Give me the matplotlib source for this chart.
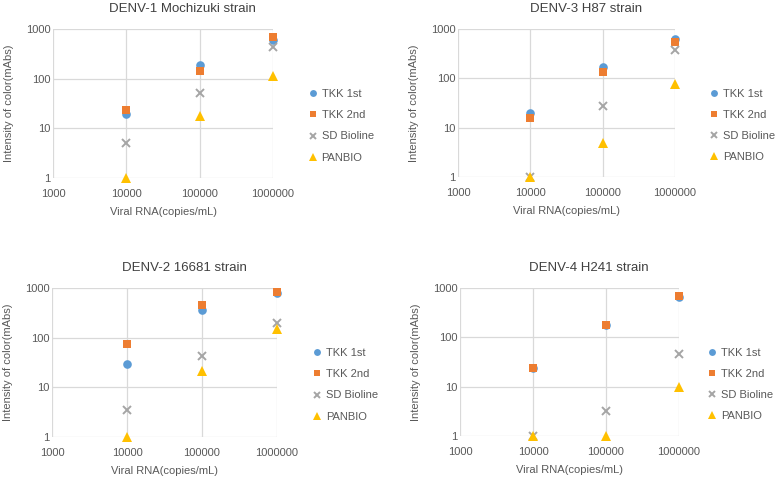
import matplotlib.pyplot as plt
from matplotlib.ticker import FixedLocator, FixedFormatter, NullLocator

plt.rcParams['font.family'] = ['Liberation Sans', 'DejaVu Sans']

viral_rna = [10000, 100000, 1000000]
series_names = ['TKK 1st', 'TKK 2nd', 'SD Bioline', 'PANBIO']

denv1_title = 'DENV-1 Mochizuki strain'
denv1_tkk1 = [19, 191, 590]
denv1_tkk2 = [23, 145, 690]
denv1_sd = [5.1, 52, 430]
denv1_panbio = [1, 17.5, 115]

denv3_title = 'DENV-3 H87 strain'
denv3_tkk1 = [20, 166, 625]
denv3_tkk2 = [15.7, 132, 537]
denv3_sd = [1, 28, 370]
denv3_panbio = [1, 5.0, 78]

denv2_title = 'DENV-2 16681 strain'
denv2_tkk1 = [30, 357, 780]
denv2_tkk2 = [74, 452, 840]
denv2_sd = [3.5, 42.5, 200]
denv2_panbio = [1, 21.5, 148]

denv4_title = 'DENV-4 H241 strain'
denv4_tkk1 = [24, 180, 645]
denv4_tkk2 = [24, 175, 690]
denv4_sd = [1, 3.2, 47]
denv4_panbio = [1, 1, 10]

x_ticks = [1000, 10000, 100000, 1000000]
y_ticks = [1, 10, 100, 1000]

colors = ['#5B9BD5', '#ED7D31', '#A5A5A5', '#FFC000']
markers = ['o', 's', 'x', '^']
sizes = [6.2, 6, 6, 7]

# title, series, axes rect, legend x anchor
panels = [
    (denv1_title, [denv1_tkk1, denv1_tkk2, denv1_sd, denv1_panbio], [53/778, 1-178/479, 220/778, 149/479], 1.12),
    (denv3_title, [denv3_tkk1, denv3_tkk2, denv3_sd, denv3_panbio], [458/778, 1-177/479, 217/778, 148/479], 1.12),
    (denv2_title, [denv2_tkk1, denv2_tkk2, denv2_sd, denv2_panbio], [52/778, 1-437/479, 225/778, 149/479], 1.12),
    (denv4_title, [denv4_tkk1, denv4_tkk2, denv4_sd, denv4_panbio], [460/778, 1-436/479, 219/778, 148/479], 1.09),
]

fig = plt.figure(figsize=(7.78, 4.79), dpi=100)

for title, data, pos, leg_x in panels:
    ax = fig.add_axes(pos)
    for vals, name, c, m, s in zip(data, series_names, colors, markers, sizes):
        if m == 'x':
            ax.plot(viral_rna, vals, linestyle='none', marker=m, color=c,
                    markersize=s, markeredgewidth=1.4, label=name, clip_on=False, zorder=3)
        else:
            ax.plot(viral_rna, vals, linestyle='none', marker=m, color=c,
                    markersize=s, markeredgewidth=0, label=name, clip_on=False, zorder=3)
    ax.set_xscale('log')
    ax.set_yscale('log')
    ax.set_xlim(1000, 1000000)
    ax.set_ylim(1, 1000)
    ax.xaxis.set_major_locator(FixedLocator(x_ticks))
    ax.xaxis.set_major_formatter(FixedFormatter([str(v) for v in x_ticks]))
    ax.yaxis.set_major_locator(FixedLocator(y_ticks))
    ax.yaxis.set_major_formatter(FixedFormatter([str(v) for v in y_ticks]))
    ax.xaxis.set_minor_locator(NullLocator())
    ax.yaxis.set_minor_locator(NullLocator())
    ax.tick_params(axis='x', length=0, labelsize=8, labelcolor='#595959', pad=8)
    ax.tick_params(axis='y', length=0, labelsize=8, labelcolor='#595959', pad=2)
    for sp in ax.spines.values():
        sp.set_visible(False)
    ax.grid(True, color='#D9D9D9', linewidth=0.9)
    ax.set_axisbelow(True)
    ax.set_title(title, fontsize=9.5, color='#404040', pad=12, x=0.59)
    ax.set_xlabel('Viral RNA(copies/mL)', fontsize=8, color='#595959', labelpad=6)
    ax.set_ylabel('Intensity of color(mAbs)', fontsize=8, color='#595959', labelpad=8)
    ax.legend(loc='center left', bbox_to_anchor=(leg_x, 0.35), frameon=False,
              fontsize=8, labelcolor='#595959', handlelength=0.6, handletextpad=0.5,
              labelspacing=1.0, markerscale=0.8)

fig.savefig('out.png', dpi=100)
